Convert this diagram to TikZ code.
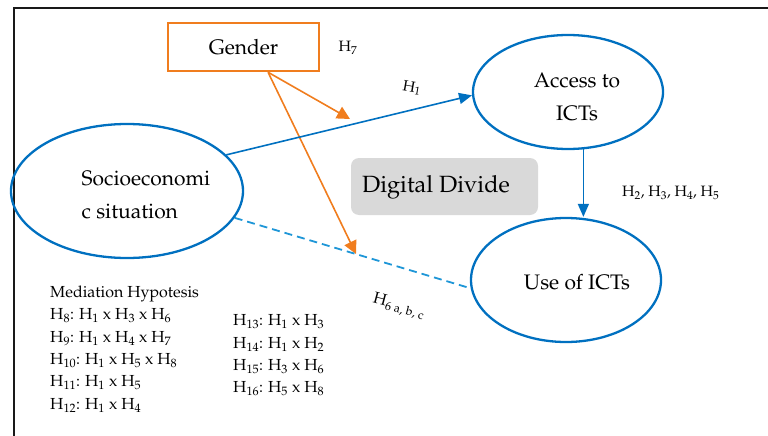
\documentclass[tikz,border=0pt]{standalone}
\usepackage[T1]{fontenc}
\usepackage{mathpazo}
\usetikzlibrary{arrows.meta,shapes.geometric,calc}
\definecolor{cblue}{RGB}{0,112,192}
\definecolor{cdash}{RGB}{30,150,215}
\definecolor{corange}{RGB}{240,125,30}
\definecolor{cgray}{RGB}{217,217,217}
\tikzset{
  oval/.style={ellipse, draw=cblue, line width=2.3pt, inner sep=0pt},
  bigtext/.style={font=\fontsize{21}{33}\selectfont, align=center, inner sep=0pt},
  lab/.style={font=\fontsize{15}{17}\selectfont, inner sep=0pt},
  blar/.style={draw=cblue, line width=1.6pt, -{Triangle[length=13pt,width=11pt]}},
  orar/.style={draw=corange, line width=1.6pt, -{Triangle[length=13pt,width=13pt]}},
  dashline/.style={draw=cdash, line width=1.8pt, dash pattern=on 8pt off 5pt},
  hyplist/.style={font=\fontsize{16}{22.4}\selectfont, align=left, anchor=north west, inner sep=0pt},
}
\newcommand{\hs}[1]{H\textsubscript{#1}}
\begin{document}
\begin{tikzpicture}[x=1pt,y=-1pt]
\useasboundingbox (0,0) rectangle (768,436);
% frame
\draw[line width=2.8pt, black!90] (14,440) -- (14,8) -- (772,8);
% nodes
\node[draw=corange, line width=2.5pt, minimum width=151pt, minimum height=48pt, inner sep=0pt,
      font=\fontsize{21}{24}\selectfont] (gender) at (243.5,47) {Gender};
\node[lab] (h7) at (348,48) {\hs{7}};
\node[oval, minimum width=190pt, minimum height=114pt] (access) at (568,92) {};
\node[bigtext] (accesst) at (577,97) {Access to\\ICTs};
\node[oval, minimum width=232pt, minimum height=134pt] (socio) at (127,191) {};
\node[bigtext, align=left] (sociot) at (146,195) {Socioeconomi\\c situation};
\node[oval, minimum width=190pt, minimum height=124pt] (use) at (566,280) {};
\node[bigtext] (uset) at (577,282) {Use of ICTs};
\node[fill=cgray, rounded corners=8pt, minimum width=187pt, minimum height=57pt, inner sep=0pt] (dd) at (444.5,186.5) {};
\node[font=\fontsize{23.5}{26}\selectfont, inner sep=0pt] (ddt) at (436,187) {Digital Divide};
\node[lab, anchor=west] (h2) at (622,193) {\hs{2}, \hs{3}, \hs{4}, \hs{5}};
\node[lab, rotate=-10] (h1) at (412,88) {\hs{1}};
\node[lab, rotate=-15, anchor=west, font=\fontsize{16}{18}\selectfont] (h6) at (373,300) {\hs{6 a, b, c}};
% hypotheses
\node[hyplist] (med) at (50,285.5) {Mediation Hypotesis\\
\hs{8}: \hs{1} x \hs{3} x \hs{6}\\
\hs{9}: \hs{1} x \hs{4} x \hs{7}\\
\hs{10}: \hs{1} x \hs{5} x \hs{8}\\
\hs{11}: \hs{1} x \hs{5}\\
\hs{12}: \hs{1} x \hs{4}};
\node[hyplist] (med2) at (233,314.5) {\hs{13}: \hs{1} x \hs{3}\\
\hs{14}: \hs{1} x \hs{2}\\
\hs{15}: \hs{3} x \hs{6}\\
\hs{16}: \hs{5} x \hs{8}};
% connectors
\coordinate (gs) at ($(gender.south west)!0.66!(gender.south east)$);
\coordinate (t1) at (350,119);
\coordinate (t2) at (356,254);
\draw[orar] (gs) -- (t1);
\draw[orar] (gs) -- (t2);
\draw[blar] (socio.20) -- (access.182);
\draw[blar] (access.-75) -- (access.-75 |- use.north);
\draw[dashline] (socio.-14) -- (use.185);
\end{tikzpicture}
\end{document}
